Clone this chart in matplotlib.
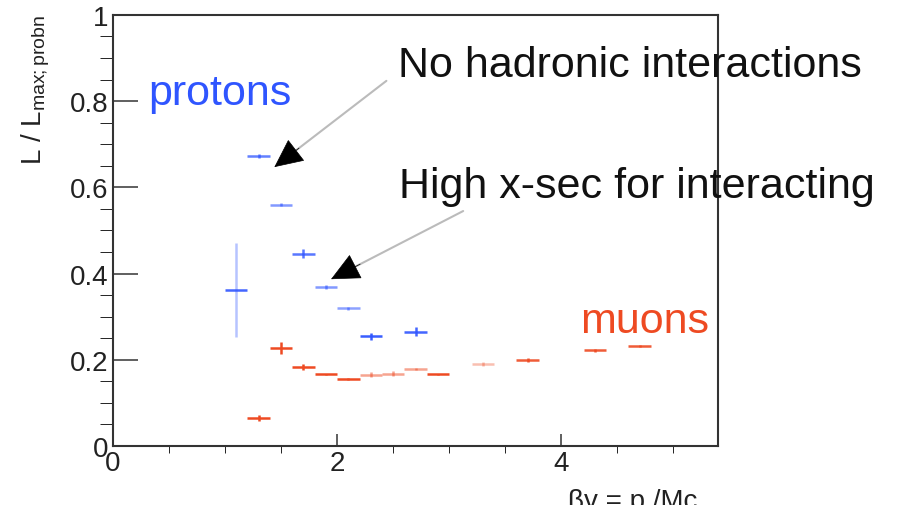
import matplotlib
matplotlib.use("Agg")
import matplotlib.pyplot as plt
from matplotlib.ticker import MultipleLocator, FuncFormatter

plt.rcParams['font.family'] = ['Liberation Sans', 'DejaVu Sans']
plt.rcParams['mathtext.fontset'] = 'custom'
plt.rcParams['mathtext.rm'] = 'Liberation Sans'
plt.rcParams['mathtext.it'] = 'Liberation Sans'

# protons: bin centres, ratio and its error
p_x = [1.1, 1.3, 1.5, 1.7, 1.9, 2.1, 2.3, 2.7]
p_y = [0.362, 0.673, 0.560, 0.446, 0.369, 0.319, 0.254, 0.265]
p_yerr = [0.11, 0.004, 0.003, 0.010, 0.004, 0.004, 0.008, 0.010]
p_alpha = [0.9, 0.75, 0.6, 0.8, 0.6, 0.55, 0.95, 0.9]

# muons
m_x = [1.3, 1.5, 1.7, 1.9, 2.1, 2.3, 2.5, 2.7, 2.9, 3.3, 3.7, 4.3, 4.7]
m_y = [0.065, 0.227, 0.183, 0.166, 0.155, 0.165, 0.168, 0.179, 0.166,
       0.190, 0.200, 0.222, 0.232]
m_yerr = [0.008, 0.014, 0.007, 0.002, 0.002, 0.006, 0.005, 0.003, 0.002,
          0.004, 0.004, 0.003, 0.002]
m_alpha = [1, 1, 1, 1, 1, 0.5, 0.5, 0.5, 1, 0.35, 0.9, 0.9, 0.9]

half_bin = 0.1
blue = '#2f55ff'
red = '#ee4a22'

fig = plt.figure(figsize=(8.97, 5.06), dpi=100)
ax = fig.add_axes([0.126, 0.1166, 0.6745, 0.852])
ax.set_xlim(0, 5.4)
ax.set_ylim(0, 1)

for xs, ys, es, als, col in [(p_x, p_y, p_yerr, p_alpha, blue),
                             (m_x, m_y, m_yerr, m_alpha, red)]:
    for x, y, e, a in zip(xs, ys, es, als):
        _, _, bars = ax.errorbar(x, y, xerr=half_bin, yerr=e, fmt='none',
                                 ecolor=col, elinewidth=1.8, capsize=0)
        bars[0].set_alpha(a)
        bars[1].set_alpha(a if e < 0.05 else 0.35)

# frame and ticks
for sp in ax.spines.values():
    sp.set_linewidth(1.5)
    sp.set_color('#333333')
ax.xaxis.set_major_locator(MultipleLocator(2))
ax.xaxis.set_minor_locator(MultipleLocator(0.5))
ax.yaxis.set_major_locator(MultipleLocator(0.2))
ax.yaxis.set_minor_locator(MultipleLocator(0.05))
fmt = FuncFormatter(lambda v, pos: '%g' % round(v, 2))
ax.xaxis.set_major_formatter(fmt)
ax.yaxis.set_major_formatter(fmt)
ax.tick_params(axis='both', direction='in', colors='#444444',
               labelcolor='#222222', labelsize=20, width=1.2, pad=3)
ax.tick_params(axis='y', which='major', length=18)
ax.tick_params(axis='y', which='minor', length=9.5)
ax.tick_params(axis='x', which='major', length=9)
ax.tick_params(axis='x', which='minor', length=5)

# labels
ax.text(0.31, 0.794, 'protons', color=blue, fontsize=31)
ax.text(4.17, 0.2645, 'muons', color=red, fontsize=31)
ax.text(2.545, 0.858, 'No hadronic interactions', color='#111111', fontsize=31)
ax.text(2.55, 0.578, 'High x-sec for interacting', color='#111111', fontsize=31)

# arrows: grey shaft, black head
for start, tip in [((2.44, 0.847), (1.44, 0.647)),
                   ((3.125, 0.545), (1.946, 0.387))]:
    ax.annotate('', xy=tip, xytext=start,
                arrowprops=dict(arrowstyle='-', color='#bbbbbb', lw=1.5,
                                shrinkA=0, shrinkB=10))
    dx = start[0] - tip[0]
    dy = start[1] - tip[1]
    k = 0.22
    base = (tip[0] + dx * k, tip[1] + dy * k)
    ax.annotate('', xy=tip, xytext=base,
                arrowprops=dict(arrowstyle='-|>,head_length=1.9,head_width=0.9',
                                color='black', lw=0.5, mutation_scale=10,
                                shrinkA=0, shrinkB=0))

fig.text(20 / 897, 1 - 15 / 506, r'L / L$_{\mathrm{max{;}probn}}$',
         rotation=90, ha='left', va='top', fontsize=20, color='#222222')
fig.text(568 / 897, -3 / 506, r'βγ = p /Mc', ha='left', va='baseline',
         fontsize=20, color='#222222')

fig.savefig('out.png', dpi=100)
